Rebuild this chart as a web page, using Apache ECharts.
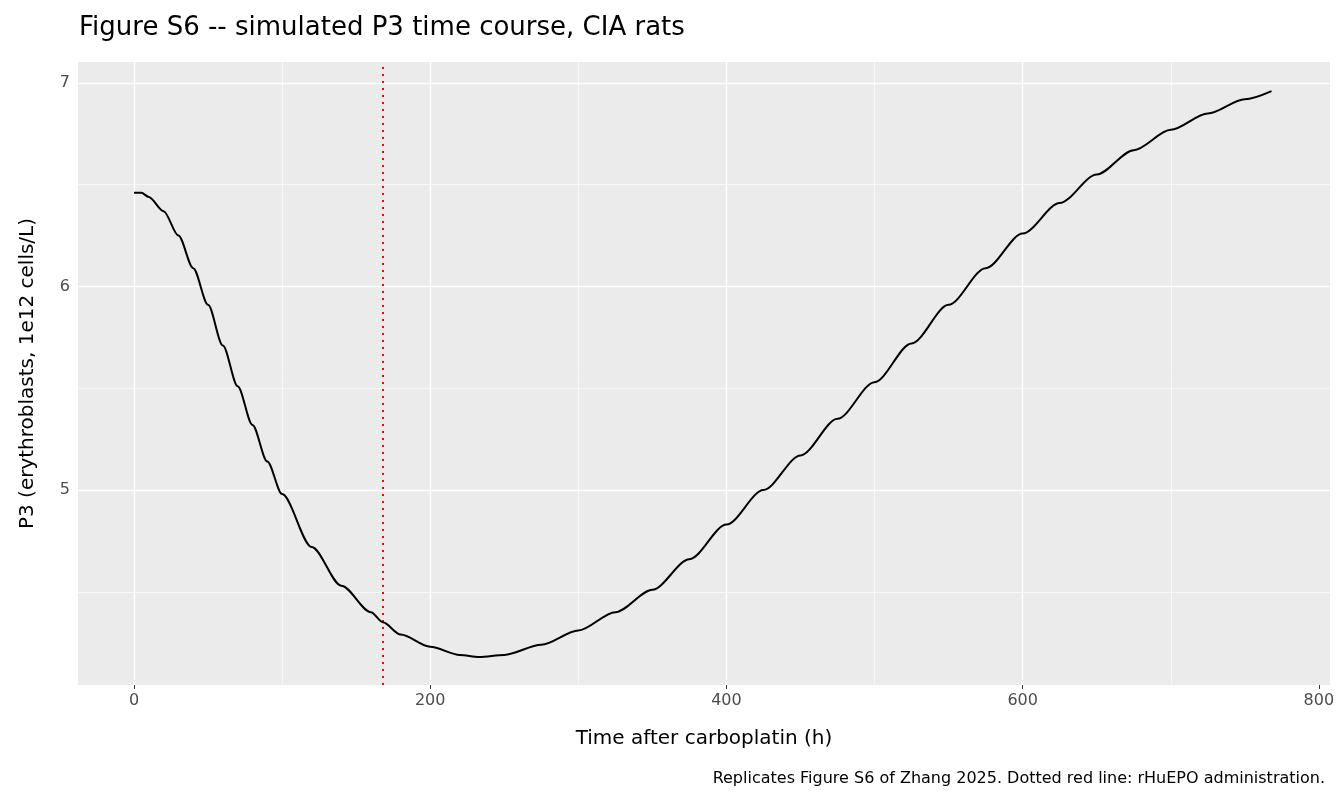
<!DOCTYPE html><html><head><meta charset="utf-8">
<script src="https://cdn.jsdelivr.net/npm/echarts@6/dist/echarts.min.js"></script>
<style>body{margin:0}#c{width:1344px;height:806px}</style></head><body><div id="c"></div><script>
const timeH=[0,5,10,20,30,40,50,60,70,80,90,100,120,140,160,168,180,200,220,233,250,275,300,325,350,375,400,425,450,475,500,525,550,575,600,625,650,675,700,725,750,768];
const p3=[6.46,6.46,6.44,6.37,6.25,6.09,5.91,5.71,5.51,5.32,5.14,4.98,4.72,4.53,4.40,4.35,4.29,4.23,4.19,4.18,4.19,4.24,4.31,4.40,4.51,4.66,4.83,5.0,5.17,5.35,5.53,5.72,5.91,6.09,6.26,6.41,6.55,6.67,6.77,6.85,6.92,6.96];
const xTicks=[0,200,400,600,800], yTicks=[5,6,7];
const xMinor=[100,300,500,700], yMinor=[4.5,5.5,6.5];
const eventT=168;
const lbl={color:'#4d4d4d',fontSize:16,fontFamily:'DejaVu Sans'};
const ml=(arr,key,w)=>arr.map(v=>({[key]:v,lineStyle:{color:'#fff',width:w,type:'solid'}}));
const c=echarts.init(document.getElementById('c'));
c.setOption({animation:false,
title:[{text:'Figure S6 -- simulated P3 time course, CIA rats',left:74,top:10,textStyle:{fontSize:26,fontWeight:'normal',color:'#000',fontFamily:'DejaVu Sans'}},
{text:'Replicates Figure S6 of Zhang 2025. Dotted red line: rHuEPO administration.',right:14,top:766,textStyle:{fontSize:16,fontWeight:'normal',color:'#000',fontFamily:'DejaVu Sans'}}],
grid:{left:78,right:14,top:62,bottom:121,show:true,backgroundColor:'#ebebeb',borderWidth:0},
xAxis:{type:'value',min:-37.8,max:807.5,splitLine:{show:false},axisLine:{show:false},
axisTick:{show:true,customValues:xTicks,length:4,lineStyle:{color:'#333'}},axisLabel:{...lbl,customValues:xTicks,margin:8},
name:'Time after carboplatin (h)',nameLocation:'middle',nameGap:44,nameTextStyle:{fontSize:20,color:'#000',fontFamily:'DejaVu Sans'}},
yAxis:{type:'value',min:4.042,max:7.103,splitLine:{show:false},axisLine:{show:false},
axisTick:{show:true,customValues:yTicks,length:4,lineStyle:{color:'#333'}},axisLabel:{...lbl,customValues:yTicks,margin:8},
name:'P3 (erythroblasts, 1e12 cells/L)',nameLocation:'middle',nameGap:40,nameTextStyle:{fontSize:20,color:'#000',fontFamily:'DejaVu Sans'}},
series:[{type:'line',data:[],silent:true,markLine:{symbol:'none',silent:true,label:{show:false},
data:[...ml(xMinor,'xAxis',0.6),...ml(yMinor,'yAxis',0.6),...ml(xTicks.slice(0,4),'xAxis',1.3),...ml(yTicks,'yAxis',1.3)]}},
{type:'line',data:timeH.map((t,i)=>[t,p3[i]]),smooth:0.3,smoothMonotone:'x',showSymbol:false,lineStyle:{color:'#000',width:2},z:5,
markLine:{symbol:'none',silent:true,label:{show:false},data:[{xAxis:eventT,lineStyle:{color:'#ff0000',type:[2,5],width:2}}]}}]});
</script></body></html>
